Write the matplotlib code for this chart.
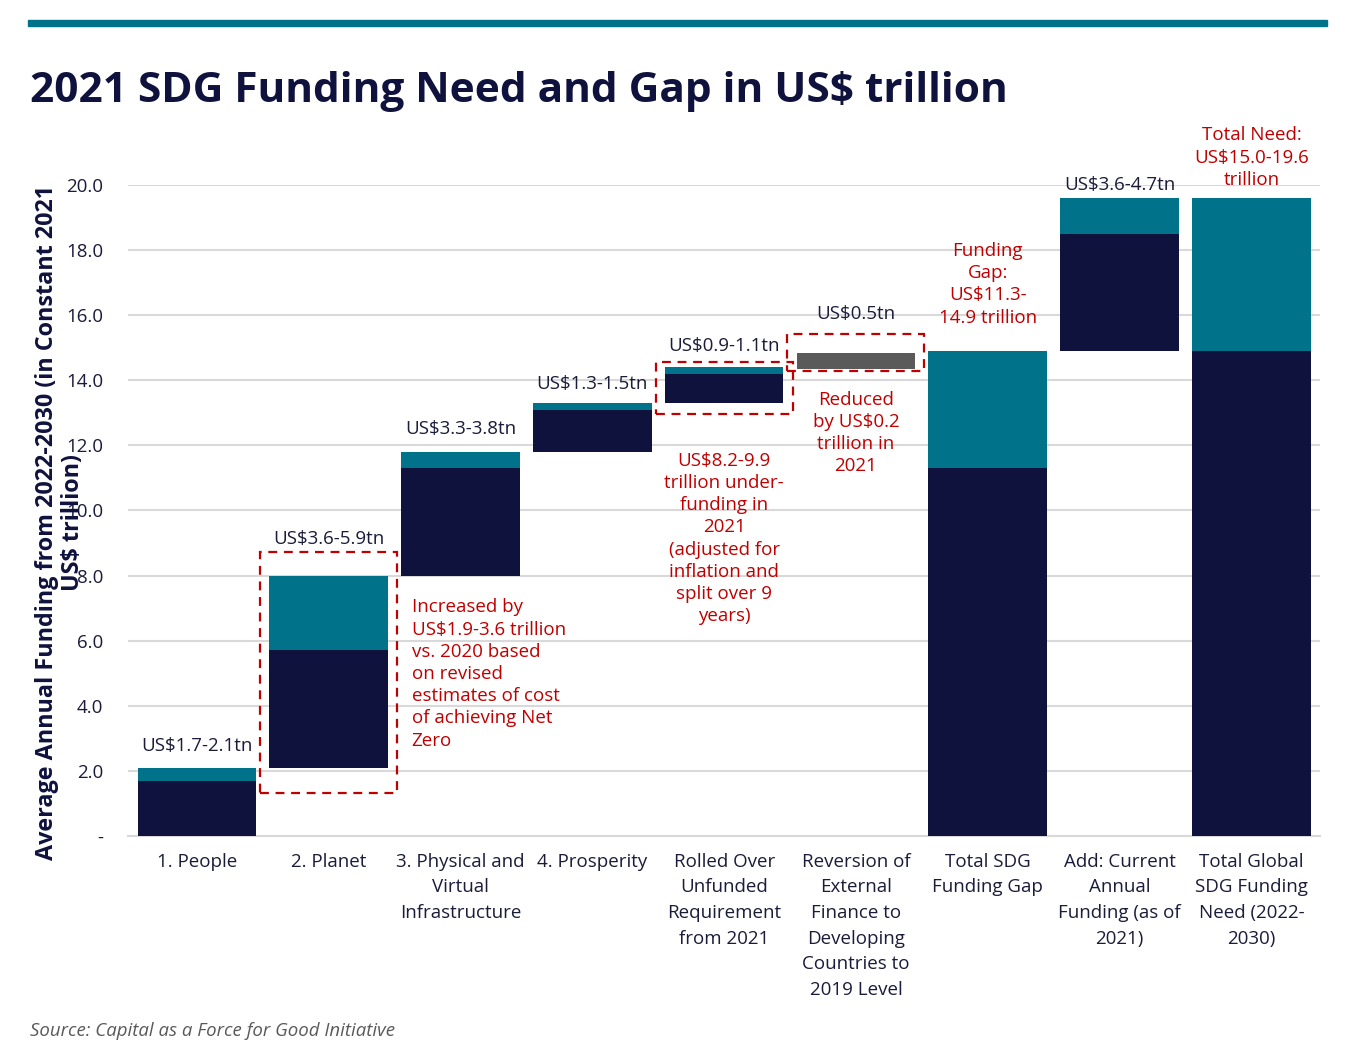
import numpy as np
import matplotlib
matplotlib.use("Agg")
from matplotlib import pyplot as plt
from matplotlib.patches import Rectangle

plt.rcParams['font.family'] = ['Open Sans', 'DejaVu Sans']

# waterfall data (US$ trillion)
categories = ["1. People", "2. Planet", "3. Physical and\nVirtual\nInfrastructure",
              "4. Prosperity", "Rolled Over\nUnfunded\nRequirement\nfrom 2021",
              "Reversion of\nExternal\nFinance to\nDeveloping\nCountries to\n2019 Level",
              "Total SDG\nFunding Gap", "Add: Current\nAnnual\nFunding (as of\n2021)",
              "Total Global\nSDG Funding\nNeed (2022-\n2030)"]
base = [0, 2.1, 8.0, 11.8, 13.3, 14.35, 0, 14.9, 0]
low = [1.7, 3.6, 3.3, 1.3, 0.9, 0, 11.3, 3.6, 14.9]
upper = [0.4, 2.3, 0.5, 0.2, 0.2, 0, 3.6, 1.1, 4.7]
grey = [0, 0, 0, 0, 0, 0.5, 0, 0, 0]
range_labels = ["US$1.7-2.1tn", "US$3.6-5.9tn", "US$3.3-3.8tn", "US$1.3-1.5tn",
                "US$0.9-1.1tn", "US$0.5tn", "", "US$3.6-4.7tn", ""]

NAVY = "#10123e"
TEAL = "#00728a"
GREY = "#5a5a5a"
RED = "#c00000"
TXT = "#1b1b3a"

fig = plt.figure(figsize=(13.65, 10.45), dpi=100)
ax = fig.add_axes([0.094, 0.2, 0.873, 0.623])

x = np.arange(len(categories))
base = np.array(base)
low = np.array(low)
upper = np.array(upper)
grey = np.array(grey)

ax.bar(x, low, 0.9, bottom=base, color=NAVY, zorder=3)
ax.bar(x, upper, 0.9, bottom=base + low, color=TEAL, zorder=3)
ax.bar(x, grey, 0.9, bottom=base + low + upper, color=GREY, zorder=3)

ax.set_xlim(-0.52, 8.52)
ax.set_ylim(0, 20)
ax.set_yticks(np.arange(0, 21, 2))
ax.set_yticklabels(["-"] + ["%.1f" % v for v in np.arange(2, 21, 2)])
ax.set_xticks(x)
ax.set_xticklabels(categories, linespacing=1.55)
ax.tick_params(axis='both', length=0, labelsize=13.5, labelcolor=TXT)
ax.tick_params(axis='y', pad=18)
ax.tick_params(axis='x', pad=12)
for lab in ax.get_xticklabels():
    lab.set_verticalalignment('top')
ax.grid(axis='y', color='#d9d9d9', linewidth=1.5, zorder=0)
for s in ['top', 'right', 'left']:
    ax.spines[s].set_visible(False)
ax.spines['bottom'].set_color('#d9d9d9')
ax.spines['bottom'].set_linewidth(1.5)

ax.set_ylabel("Average Annual Funding from 2022-2030 (in Constant 2021\nUS$ trillion)",
              fontsize=16.8, fontweight='bold', color=NAVY, linespacing=1.15)
ax.yaxis.set_label_coords(-0.036, 0.482)

# range labels above bars
tops = base + low + upper + grey
offsets = [9, 20, 10, 7, 8.5, 21, 9, 3, 9]
for i in range(len(x)):
    if range_labels[i]:
        ax.annotate(range_labels[i], (x[i], tops[i]), xytext=(0, offsets[i]),
                    textcoords='offset points', ha='center', va='bottom',
                    fontsize=13.5, color=TXT, annotation_clip=False)

# dashed boxes
for (cx, y0, y1) in [(1, 1.32, 8.72), (4, 12.96, 14.56), (5, 14.29, 15.42)]:
    ax.add_patch(Rectangle((cx - 0.52, y0), 1.04, y1 - y0, fill=False,
                           edgecolor=RED, linestyle=(0, (4, 3)), linewidth=1.6,
                           zorder=4, clip_on=False))

red_kw = dict(fontsize=13.5, color=RED, linespacing=1.3, va='top')
ax.text(1.63, 7.3, "Increased by\nUS$1.9-3.6 trillion\nvs. 2020 based\non revised\n"
        "estimates of cost\nof achieving Net\nZero", ha='left', **red_kw)
ax.text(4, 11.8, "US$8.2-9.9\ntrillion under-\nfunding in\n2021\n(adjusted for\n"
        "inflation and\nsplit over 9\nyears)", ha='center', **red_kw)
ax.text(5, 13.68, "Reduced\nby US$0.2\ntrillion in\n2021", ha='center', **red_kw)
ax.text(6, 18.25, "Funding\nGap:\nUS$11.3-\n14.9 trillion", ha='center', **red_kw)
ax.text(8, 21.8, "Total Need:\nUS$15.0-19.6\ntrillion", ha='center', clip_on=False, **red_kw)

# header bar, title and source
fig.patches.append(Rectangle((28 / 1365, 1 - 26 / 1045), 1299 / 1365, 6 / 1045,
                             transform=fig.transFigure, color=TEAL))
fig.text(30 / 1365, 1 - 92 / 1045, "2021 SDG Funding Need and Gap in US$ trillion",
         fontsize=30.5, fontweight='bold', color=NAVY, va='center', ha='left')
fig.text(30 / 1365, 1 - 1031 / 1045, "Source: Capital as a Force for Good Initiative",
         fontsize=13.4, style='italic', color='#595959', va='center', ha='left')

fig.savefig("out.png", dpi=100)
